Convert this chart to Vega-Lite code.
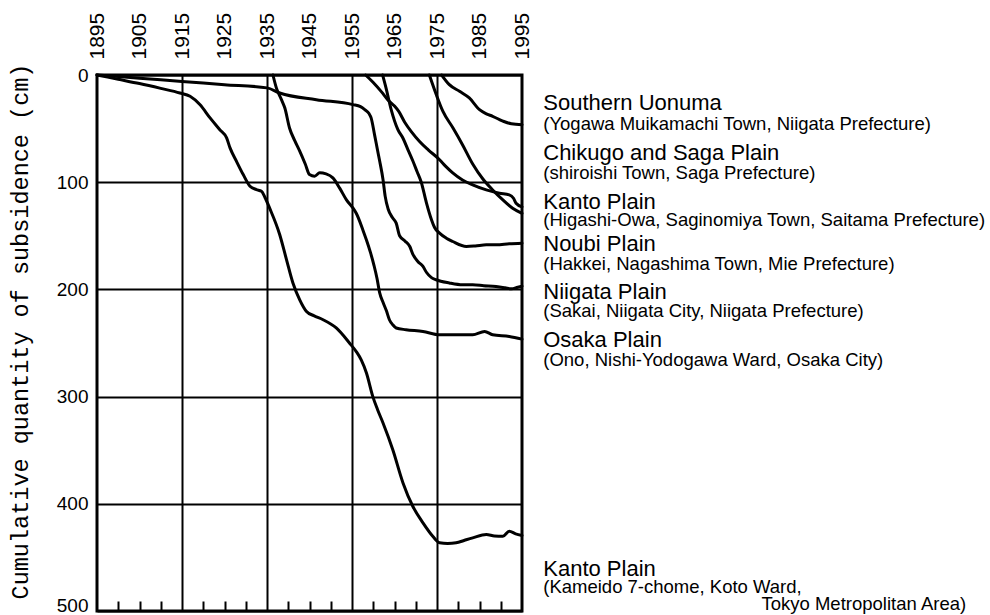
{
  "$schema": "https://vega.github.io/schema/vega-lite/v6.json",
  "autosize": {"type": "none"},
  "padding": {"left": 97, "top": 75, "right": 468, "bottom": 4},
  "width": 425,
  "height": 536,
  "background": "white",
  "config": {
    "view": {"stroke": "black", "strokeWidth": 3},
    "font": "Liberation Sans"
  },
  "datasets": {
    "curves": [
      {"s":"Niigata","year":1895,"cm":0},{"s":"Niigata","year":1905,"cm":3},{"s":"Niigata","year":1915,"cm":6},{"s":"Niigata","year":1925,"cm":9},{"s":"Niigata","year":1935,"cm":12},{"s":"Niigata","year":1938,"cm":16.8},{"s":"Niigata","year":1946.6,"cm":23},{"s":"Niigata","year":1955.2,"cm":27.6},{"s":"Niigata","year":1957,"cm":29.5},{"s":"Niigata","year":1958,"cm":32.3},{"s":"Niigata","year":1959,"cm":36},{"s":"Niigata","year":1959.5,"cm":40},{"s":"Niigata","year":1960.3,"cm":55.6},{"s":"Niigata","year":1961,"cm":70},{"s":"Niigata","year":1961.5,"cm":80},{"s":"Niigata","year":1962.3,"cm":97.6},{"s":"Niigata","year":1962.8,"cm":113},{"s":"Niigata","year":1963.5,"cm":125},{"s":"Niigata","year":1964.5,"cm":133},{"s":"Niigata","year":1965.4,"cm":138.2},{"s":"Niigata","year":1966.2,"cm":150},{"s":"Niigata","year":1967.5,"cm":155},{"s":"Niigata","year":1968.6,"cm":160},{"s":"Niigata","year":1969.3,"cm":167},{"s":"Niigata","year":1970.5,"cm":174},{"s":"Niigata","year":1971.7,"cm":178.6},{"s":"Niigata","year":1972.5,"cm":184},{"s":"Niigata","year":1973.7,"cm":189},{"s":"Niigata","year":1974.8,"cm":191},{"s":"Niigata","year":1977.9,"cm":194},{"s":"Niigata","year":1981,"cm":195.7},{"s":"Niigata","year":1983.4,"cm":195.7},{"s":"Niigata","year":1986,"cm":196.5},{"s":"Niigata","year":1988.9,"cm":197.3},{"s":"Niigata","year":1991,"cm":198.5},{"s":"Niigata","year":1992.5,"cm":199.5},{"s":"Niigata","year":1994,"cm":198},{"s":"Niigata","year":1995,"cm":197},
      {"s":"Kameido","year":1895,"cm":0},{"s":"Kameido","year":1900,"cm":4},{"s":"Kameido","year":1905,"cm":8},{"s":"Kameido","year":1910,"cm":12.5},{"s":"Kameido","year":1914.5,"cm":16.8},{"s":"Kameido","year":1916.9,"cm":19.9},{"s":"Kameido","year":1919.2,"cm":27.6},{"s":"Kameido","year":1921.6,"cm":40},{"s":"Kameido","year":1923.9,"cm":51},{"s":"Kameido","year":1925.5,"cm":58.7},{"s":"Kameido","year":1926.3,"cm":68},{"s":"Kameido","year":1927.8,"cm":80.4},{"s":"Kameido","year":1929.4,"cm":92.9},{"s":"Kameido","year":1931,"cm":103.8},{"s":"Kameido","year":1932.5,"cm":106.9},{"s":"Kameido","year":1933.7,"cm":108.4},{"s":"Kameido","year":1934.5,"cm":114},{"s":"Kameido","year":1935.6,"cm":124},{"s":"Kameido","year":1938,"cm":149},{"s":"Kameido","year":1939.6,"cm":172.4},{"s":"Kameido","year":1941.1,"cm":194},{"s":"Kameido","year":1942.7,"cm":209.7},{"s":"Kameido","year":1944.3,"cm":220.6},{"s":"Kameido","year":1946,"cm":224.5},{"s":"Kameido","year":1948.2,"cm":228.3},{"s":"Kameido","year":1951.3,"cm":236},{"s":"Kameido","year":1954.4,"cm":250},{"s":"Kameido","year":1956,"cm":258},{"s":"Kameido","year":1957.2,"cm":266},{"s":"Kameido","year":1958.4,"cm":278},{"s":"Kameido","year":1959.9,"cm":300},{"s":"Kameido","year":1961,"cm":312},{"s":"Kameido","year":1962.3,"cm":324.6},{"s":"Kameido","year":1964.6,"cm":349.5},{"s":"Kameido","year":1967,"cm":380.5},{"s":"Kameido","year":1969.3,"cm":402.3},{"s":"Kameido","year":1971.7,"cm":417.8},{"s":"Kameido","year":1974,"cm":430.3},{"s":"Kameido","year":1975.6,"cm":436.4},{"s":"Kameido","year":1977.5,"cm":437},{"s":"Kameido","year":1979.5,"cm":436.4},{"s":"Kameido","year":1981.5,"cm":434},{"s":"Kameido","year":1983.4,"cm":431.8},{"s":"Kameido","year":1986.6,"cm":428.7},{"s":"Kameido","year":1988.5,"cm":430},{"s":"Kameido","year":1990.5,"cm":430.3},{"s":"Kameido","year":1992,"cm":425.6},{"s":"Kameido","year":1993.5,"cm":428},{"s":"Kameido","year":1995,"cm":429.6},
      {"s":"Osaka","year":1936.4,"cm":0},{"s":"Osaka","year":1937.2,"cm":12},{"s":"Osaka","year":1938.4,"cm":23},{"s":"Osaka","year":1939.2,"cm":30.8},{"s":"Osaka","year":1940.3,"cm":49.4},{"s":"Osaka","year":1941.5,"cm":61},{"s":"Osaka","year":1942.7,"cm":71},{"s":"Osaka","year":1944,"cm":83},{"s":"Osaka","year":1945,"cm":92.9},{"s":"Osaka","year":1946.2,"cm":94.4},{"s":"Osaka","year":1947.4,"cm":91.3},{"s":"Osaka","year":1948.9,"cm":92.3},{"s":"Osaka","year":1950.5,"cm":96},{"s":"Osaka","year":1952.1,"cm":105.5},{"s":"Osaka","year":1953.7,"cm":116.5},{"s":"Osaka","year":1955.2,"cm":124},{"s":"Osaka","year":1956,"cm":129},{"s":"Osaka","year":1957.6,"cm":145},{"s":"Osaka","year":1958.4,"cm":154},{"s":"Osaka","year":1959.3,"cm":165},{"s":"Osaka","year":1960.2,"cm":178},{"s":"Osaka","year":1960.9,"cm":190},{"s":"Osaka","year":1961.5,"cm":203},{"s":"Osaka","year":1962.3,"cm":212},{"s":"Osaka","year":1963.1,"cm":220},{"s":"Osaka","year":1963.8,"cm":228.3},{"s":"Osaka","year":1964.6,"cm":233},{"s":"Osaka","year":1965.4,"cm":236},{"s":"Osaka","year":1967.7,"cm":237.6},{"s":"Osaka","year":1971.7,"cm":239.2},{"s":"Osaka","year":1975.6,"cm":242.3},{"s":"Osaka","year":1979.5,"cm":242.3},{"s":"Osaka","year":1983.4,"cm":242.3},{"s":"Osaka","year":1986.2,"cm":239.2},{"s":"Osaka","year":1988.1,"cm":242.3},{"s":"Osaka","year":1992,"cm":243.9},{"s":"Osaka","year":1995,"cm":246.4},
      {"s":"Saitama","year":1958.2,"cm":0},{"s":"Saitama","year":1960,"cm":7},{"s":"Saitama","year":1962,"cm":16},{"s":"Saitama","year":1963.4,"cm":23},{"s":"Saitama","year":1965,"cm":29},{"s":"Saitama","year":1966,"cm":34},{"s":"Saitama","year":1967.4,"cm":44},{"s":"Saitama","year":1969,"cm":53},{"s":"Saitama","year":1970.9,"cm":62},{"s":"Saitama","year":1973,"cm":70},{"s":"Saitama","year":1975.6,"cm":79},{"s":"Saitama","year":1977,"cm":85},{"s":"Saitama","year":1978.7,"cm":91.3},{"s":"Saitama","year":1981,"cm":97.9},{"s":"Saitama","year":1983.4,"cm":102.5},{"s":"Saitama","year":1986.6,"cm":107.2},{"s":"Saitama","year":1989.7,"cm":110.3},{"s":"Saitama","year":1992,"cm":111.8},{"s":"Saitama","year":1993,"cm":115},{"s":"Saitama","year":1993.6,"cm":119.6},{"s":"Saitama","year":1995,"cm":123},
      {"s":"Noubi","year":1962.2,"cm":0},{"s":"Noubi","year":1963,"cm":12},{"s":"Noubi","year":1964.2,"cm":32},{"s":"Noubi","year":1965.8,"cm":51},{"s":"Noubi","year":1967,"cm":59},{"s":"Noubi","year":1968.2,"cm":70},{"s":"Noubi","year":1969.3,"cm":80},{"s":"Noubi","year":1970.3,"cm":90},{"s":"Noubi","year":1971.3,"cm":100},{"s":"Noubi","year":1972.5,"cm":119},{"s":"Noubi","year":1973.7,"cm":135},{"s":"Noubi","year":1974.4,"cm":142},{"s":"Noubi","year":1975.6,"cm":147.5},{"s":"Noubi","year":1977.2,"cm":152.2},{"s":"Noubi","year":1978.7,"cm":155.3},{"s":"Noubi","year":1981.9,"cm":160},{"s":"Noubi","year":1984,"cm":159.5},{"s":"Noubi","year":1986.6,"cm":158.4},{"s":"Noubi","year":1989,"cm":158.4},{"s":"Noubi","year":1992,"cm":157.5},{"s":"Noubi","year":1995,"cm":157},
      {"s":"Chikugo","year":1973.2,"cm":0},{"s":"Chikugo","year":1974.8,"cm":18},{"s":"Chikugo","year":1976.4,"cm":34},{"s":"Chikugo","year":1978.7,"cm":49},{"s":"Chikugo","year":1981,"cm":65},{"s":"Chikugo","year":1983.4,"cm":83},{"s":"Chikugo","year":1985.8,"cm":97},{"s":"Chikugo","year":1988.1,"cm":107.2},{"s":"Chikugo","year":1990.5,"cm":116.5},{"s":"Chikugo","year":1992.8,"cm":124.3},{"s":"Chikugo","year":1995,"cm":129},
      {"s":"Uonuma","year":1976.1,"cm":0},{"s":"Uonuma","year":1977.9,"cm":9},{"s":"Uonuma","year":1980.3,"cm":15.2},{"s":"Uonuma","year":1982.6,"cm":21.4},{"s":"Uonuma","year":1985,"cm":32.3},{"s":"Uonuma","year":1986.5,"cm":36},{"s":"Uonuma","year":1988.1,"cm":38.5},{"s":"Uonuma","year":1990.5,"cm":43},{"s":"Uonuma","year":1992.5,"cm":45.5},{"s":"Uonuma","year":1995,"cm":46.3}
    ],
    "labels": [
      {"kind":"head","t":"Southern Uonuma","x":2000,"y":26.1},
      {"kind":"head","t":"Chikugo and Saga Plain","x":2000,"y":72.8},
      {"kind":"head","t":"Kanto Plain","x":2000,"y":118.5},
      {"kind":"head","t":"Noubi Plain","x":2000,"y":157.6},
      {"kind":"head","t":"Niigata Plain","x":2000,"y":202.4},
      {"kind":"head","t":"Osaka Plain","x":2000,"y":247.2},
      {"kind":"head","t":"Kanto Plain","x":2000,"y":460.8},
      {"kind":"sub","t":"(Yogawa Muikamachi Town, Niigata Prefecture)","x":2000,"y":45.7},
      {"kind":"sub","t":"(shiroishi Town, Saga Prefecture)","x":2000,"y":91.4},
      {"kind":"sub","t":"(Higashi-Owa, Saginomiya Town, Saitama Prefecture)","x":2000,"y":135.3},
      {"kind":"sub","t":"(Hakkei, Nagashima Town, Mie Prefecture)","x":2000,"y":176.3},
      {"kind":"sub","t":"(Sakai, Niigata City, Niigata Prefecture)","x":2000,"y":220.1},
      {"kind":"sub","t":"(Ono, Nishi-Yodogawa Ward, Osaka City)","x":2000,"y":265.9},
      {"kind":"sub","t":"(Kameido 7-chome, Koto Ward,","x":2000,"y":477.6},
      {"kind":"subr","t":"Tokyo Metropolitan Area)","x":2099.5,"y":493.5}
    ]
  },
  "resolve": {"axis": {"x": "independent", "y": "independent"}},
  "layer": [
    {
      "data": {"name": "curves"},
      "mark": {"type": "line", "color": "black", "strokeWidth": 3, "interpolate": "monotone", "strokeJoin": "round", "strokeCap": "round"},
      "encoding": {
        "x": {"field": "year", "type": "quantitative", "scale": {"domain": [1895, 1995], "nice": false, "zero": false},
              "axis": {"orient": "top", "values": [1895,1905,1915,1925,1935,1945,1955,1965,1975,1985,1995], "labelAngle": -90, "labelFontSize": 21, "labelColor": "black", "labelPadding": 16, "ticks": false, "domain": false, "grid": false, "title": null, "format": "d", "labelFont": "Liberation Sans", "labelBaseline": "middle", "labelAlign": "left"}},
        "y": {"field": "cm", "type": "quantitative", "scale": {"domain": [0, 500], "reverse": true, "nice": false},
              "axis": {"values": [0,100,200,300,400,500], "labelFontSize": 19, "labelColor": "black", "labelPadding": 9, "ticks": false, "domain": false, "grid": true, "gridColor": "black", "gridWidth": 2, "gridOpacity": 1,
                       "labelBaseline": {"condition": {"test": "datum.value === 500", "value": "alphabetic"}, "value": "middle"},
                       "title": "Cumulative quantity of subsidence (cm)", "titleFont": "Liberation Mono", "titleFontSize": 23.5, "titleFontWeight": "normal", "titleColor": "black", "titlePadding": 24, "titleY": 256, "labelFont": "Liberation Sans"}},
        "detail": {"field": "s"}
      }
    },
    {
      "data": {"name": "labels"},
      "transform": [{"filter": "datum.kind === 'head'"}],
      "mark": {"type": "text", "align": "left", "baseline": "middle", "fontSize": 22, "font": "Liberation Sans", "color": "black"},
      "encoding": {
        "x": {"field": "x", "type": "quantitative", "scale": {"domain": [1895, 1995], "nice": false, "zero": false},
              "axis": {"orient": "bottom", "values": [1900,1905,1910,1920,1925,1930,1940,1945,1950,1960,1965,1970,1980,1985,1990], "labels": false, "domain": false, "grid": false, "ticks": true, "tickSize": -10, "tickWidth": 2, "tickColor": "black", "title": null}},
        "y": {"field": "y", "type": "quantitative", "scale": {"domain": [0, 500], "reverse": true, "nice": false}, "axis": null},
        "text": {"field": "t"}
      }
    },
    {
      "data": {"name": "labels"},
      "transform": [{"filter": "datum.kind === 'sub'"}],
      "mark": {"type": "text", "align": "left", "baseline": "middle", "fontSize": 18.5, "font": "Liberation Sans", "color": "black"},
      "encoding": {
        "x": {"field": "x", "type": "quantitative", "scale": {"domain": [1895, 1995], "nice": false, "zero": false},
              "axis": {"orient": "bottom", "values": [1915,1935,1955,1975], "labels": false, "domain": false, "ticks": false, "grid": true, "gridColor": "black", "gridWidth": 2, "gridOpacity": 1, "title": null}},
        "y": {"field": "y", "type": "quantitative", "scale": {"domain": [0, 500], "reverse": true, "nice": false}, "axis": null},
        "text": {"field": "t"}
      }
    },
    {
      "data": {"name": "labels"},
      "transform": [{"filter": "datum.kind === 'subr'"}],
      "mark": {"type": "text", "align": "right", "baseline": "middle", "fontSize": 18.5, "font": "Liberation Sans", "color": "black"},
      "encoding": {
        "x": {"field": "x", "type": "quantitative", "scale": {"domain": [1895, 1995], "nice": false, "zero": false}, "axis": null},
        "y": {"field": "y", "type": "quantitative", "scale": {"domain": [0, 500], "reverse": true, "nice": false}, "axis": null},
        "text": {"field": "t"}
      }
    }
  ]
}
